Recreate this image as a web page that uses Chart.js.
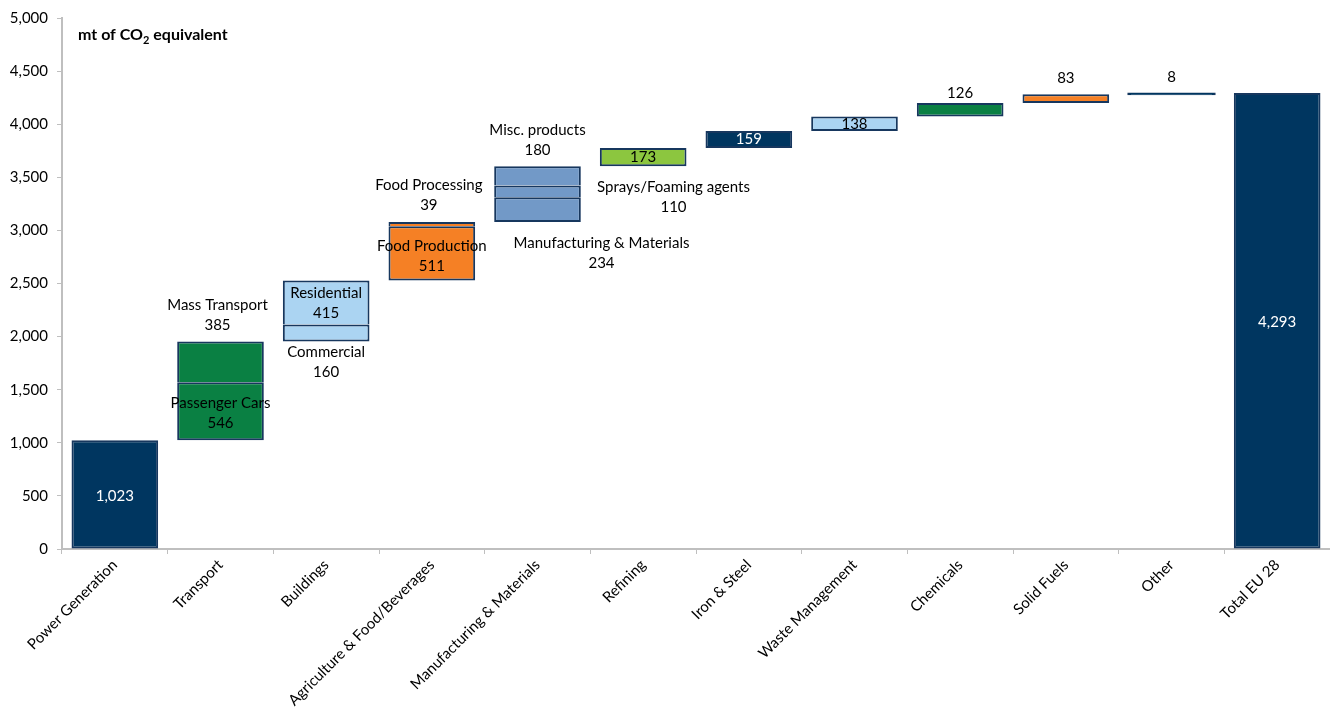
<!DOCTYPE html>
<html>
<head>
<meta charset="utf-8">
<title>EU 28 greenhouse gas emissions by sector</title>
<script src="https://cdn.jsdelivr.net/npm/chart.js@4.4.1/dist/chart.umd.min.js"></script>
<style>
  html, body { margin: 0; padding: 0; background: #ffffff; }
  #wrap { width: 1330px; height: 715px; position: relative; }
</style>
</head>
<body>
<div id="wrap"><canvas id="chart"></canvas></div>
<script>
// ---- data -------------------------------------------------------------
const categories = [
  'Power Generation', 'Transport', 'Buildings', 'Agriculture & Food/Beverages',
  'Manufacturing & Materials', 'Refining', 'Iron & Steel', 'Waste Management',
  'Chemicals', 'Solid Fuels', 'Other', 'Total EU 28'
];
// 'step' columns continue from the running total, 'total' columns start at zero
const columnKind = ['step', 'step', 'step', 'step', 'step', 'step', 'step', 'step', 'step', 'step', 'step', 'total'];

// stacked pieces of each column, bottom to top (mt of CO2 equivalent)
const baseSegment   = [1023, 546, 160, 511, 234, 173, 159, 138, 126, 83, 8, 4293];
const middleSegment = [null, 385, 415, 39, 110, null, null, null, null, null, null, null];
const topSegment    = [null, null, null, null, 180, null, null, null, null, null, null, null];

const baseNames   = [null, 'Passenger Cars', 'Commercial', 'Food Production', 'Manufacturing & Materials', null, null, null, null, null, null, null];
const middleNames = [null, 'Mass Transport', 'Residential', 'Food Processing', 'Sprays/Foaming agents', null, null, null, null, null, null, null];
const topNames    = [null, null, null, null, 'Misc. products', null, null, null, null, null, null, null];

const yTicks = [0, 500, 1000, 1500, 2000, 2500, 3000, 3500, 4000, 4500, 5000];

// ---- styling ----------------------------------------------------------
const NAVY = '#003660', GREEN = '#0a8043', SKY = '#abd4f2', ORANGE = '#f58025', STEEL = '#7299c7', LIME = '#8cc63f';
const columnColors = [NAVY, GREEN, SKY, ORANGE, STEEL, LIME, NAVY, SKY, GREEN, ORANGE, NAVY, NAVY];
const EDGE = '#17375e';
const FONT = 'Lato, "Open Sans", "DejaVu Sans", sans-serif';

// ---- floating ranges built from the pieces ----------------------------
const levels = [baseSegment, middleSegment, topSegment];
const levelNames = [baseNames, middleNames, topNames];
const ranges = levels.map(() => categories.map(() => null));
const columnSpan = [];
let running = 0;
categories.forEach((c, i) => {
  let start = columnKind[i] === 'total' ? 0 : running;
  const bottom = start;
  levels.forEach((lv, k) => {
    if (lv[i] == null) return;
    ranges[k][i] = [start, start + lv[i]];
    start += lv[i];
  });
  columnSpan.push([bottom, start]);
  if (columnKind[i] !== 'total') running = start;
});

// label placement: which piece, where it sits, offset in px, text colour
const labelLayout = [
  { cat: 0,  lv: 0, at: 'mid',    dx: 0,   dy: 1,   color: '#ffffff' },
  { cat: 1,  lv: 1, at: 'top',    dx: -3,  dy: -26, color: '#000000' },
  { cat: 1,  lv: 0, at: 'mid',    dx: 0,   dy: 2,   color: '#000000' },
  { cat: 2,  lv: 1, at: 'mid',    dx: 0,   dy: 1,   color: '#000000' },
  { cat: 2,  lv: 0, at: 'bottom', dx: 0,   dy: 21,  color: '#000000' },
  { cat: 3,  lv: 1, at: 'top',    dx: -3,  dy: -27, color: '#000000' },
  { cat: 3,  lv: 0, at: 'mid',    dx: 0,   dy: 3,   color: '#000000' },
  { cat: 4,  lv: 2, at: 'top',    dx: 0,   dy: -26, color: '#000000' },
  { cat: 4,  lv: 1, at: 'mid',    dx: 136, dy: 6,   color: '#000000' },
  { cat: 4,  lv: 0, at: 'bottom', dx: 64,  dy: 31,  color: '#000000' },
  { cat: 5,  lv: 0, at: 'mid',    dx: 0,   dy: 0,   color: '#000000' },
  { cat: 6,  lv: 0, at: 'mid',    dx: 0,   dy: 0,   color: '#ffffff' },
  { cat: 7,  lv: 0, at: 'mid',    dx: 0,   dy: 0,   color: '#000000' },
  { cat: 8,  lv: 0, at: 'top',    dx: 0,   dy: -10, color: '#000000' },
  { cat: 9,  lv: 0, at: 'top',    dx: 0,   dy: -16, color: '#000000' },
  { cat: 10, lv: 0, at: 'top',    dx: 0,   dy: -16, color: '#000000' },
  { cat: 11, lv: 0, at: 'mid',    dx: 0,   dy: 1,   color: '#ffffff' }
];

const fmt = v => v.toLocaleString('en-US');

const segmentLabels = {
  id: 'segmentLabels',
  afterDatasetsDraw(chart) {
    const { ctx, scales: { x, y } } = chart;
    ctx.save();
    ctx.font = '15px ' + FONT;
    ctx.textAlign = 'center';
    ctx.textBaseline = 'middle';
    labelLayout.forEach(l => {
      const r = ranges[l.lv][l.cat];
      if (!r) return;
      const cx = x.getPixelForValue(l.cat) + l.dx;
      let anchor;
      if (l.at === 'mid') anchor = y.getPixelForValue((r[0] + r[1]) / 2);
      else if (l.at === 'top') anchor = y.getPixelForValue(columnSpan[l.cat][1]);
      else anchor = y.getPixelForValue(columnSpan[l.cat][0]);
      const cy = anchor + l.dy;
      const name = levelNames[l.lv][l.cat];
      const lines = name ? [name, fmt(levels[l.lv][l.cat])] : [fmt(levels[l.lv][l.cat])];
      const lh = 20;
      const y0 = cy - (lines.length - 1) * lh / 2;
      ctx.fillStyle = l.color;
      lines.forEach((t, j) => ctx.fillText(t, cx, y0 + j * lh));
    });
    ctx.restore();
  }
};

// unit caption with subscript inside the plot corner
const unitCaption = {
  id: 'unitCaption',
  afterDraw(chart) {
    const { ctx, chartArea } = chart;
    ctx.save();
    ctx.fillStyle = '#000000';
    ctx.textBaseline = 'alphabetic';
    ctx.textAlign = 'left';
    let px = chartArea.left + 16;
    const base = chartArea.top + 22;
    ctx.font = 'bold 16px ' + FONT;
    ctx.fillText('mt of CO', px, base);
    px += ctx.measureText('mt of CO').width;
    ctx.font = 'bold 11px ' + FONT;
    ctx.fillText('2', px, base + 4);
    px += ctx.measureText('2').width;
    ctx.font = 'bold 16px ' + FONT;
    ctx.fillText(' equivalent', px, base);
    ctx.restore();
  }
};

const datasets = ranges.map((data, k) => ({
  label: ['base', 'middle', 'top'][k],
  data,
  grouped: false,
  backgroundColor: columnColors,
  borderColor: EDGE,
  // pieces sitting on another piece leave the shared divider to the one below
  borderWidth: k === 0 ? 2 : { top: 2, left: 2, right: 2, bottom: 0 },
  borderSkipped: false,
  inflateAmount: c => {
    const r = c.raw;
    // very thin pieces are widened a little so they still read as a line
    return r && Math.abs(r[1] - r[0]) < 20 ? 0.9 : 0;
  },
  categoryPercentage: 1.0,
  barPercentage: 0.82
}));

new Chart(document.getElementById('chart'), {
  type: 'bar',
  data: { labels: categories, datasets },
  options: {
    responsive: true,
    maintainAspectRatio: false,
    animation: false,
    layout: { padding: { top: 15, right: 0, left: 0, bottom: 0 } },
    plugins: { legend: { display: false }, tooltip: { enabled: false } },
    scales: {
      x: {
        type: 'category',
        offset: true,
        grid: { offset: true, drawOnChartArea: false, tickLength: 5, color: '#bfbfbf' },
        border: { color: '#bfbfbf', width: 2 },
        ticks: {
          autoSkip: false, maxRotation: 45, minRotation: 45, padding: 2,
          color: '#000000', font: { family: FONT, size: 15 }
        },
        afterFit(scale) { scale.height = 166; }
      },
      y: {
        min: 0, max: 5000,
        afterBuildTicks(scale) { scale.ticks = yTicks.map(v => ({ value: v })); },
        grid: { drawOnChartArea: false, tickLength: 5, color: '#bfbfbf' },
        border: { color: '#bfbfbf', width: 2 },
        ticks: {
          padding: 9, color: '#000000', font: { family: FONT, size: 15 },
          callback: v => fmt(v)
        },
        afterFit(scale) { scale.width = 62; }
      }
    }
  },
  plugins: [segmentLabels, unitCaption]
});
</script>
</body>
</html>
